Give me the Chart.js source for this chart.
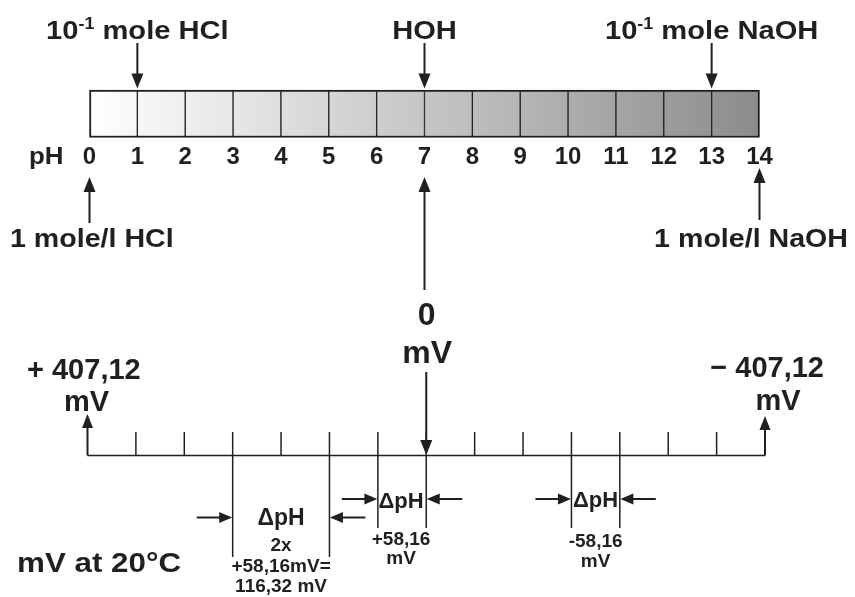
<!DOCTYPE html>
<html>
<head>
<meta charset="utf-8">
<script src="https://cdn.jsdelivr.net/npm/chart.js@4/dist/chart.umd.min.js"></script>
<style>
html,body{margin:0;padding:0;background:#fff;}
#wrap{width:855px;height:597px;}
</style>
</head>
<body>
<div id="wrap"><canvas id="c" width="855" height="597"></canvas></div>
<script>
// ---------- data ----------
const phValues = [0,1,2,3,4,5,6,7,8,9,10,11,12,13,14];
const phTickLabels = ['0','1','2','3','4','5','6','7','8','9','10','11','12','13','14'];
const phCells = [0,1,2,3,4,5,6,7,8,9,10,11,12,13];
const topMarkerPH = [1, 7, 13];
const topMarkerLabels = [['10','-1',' mole HCl'], ['HOH','',''], ['10','-1',' mole NaOH']];
const bottomMarkerPH = [0, 14];
const bottomMarkerLabels = ['1 mole/l HCl', '1 mole/l NaOH'];
const zeroPH = 7;
const zeroLabels = ['0', 'mV'];
const mvEndPH = [0, 14];
const mvEndLabels = ['+ 407,12', '\u2212 407,12'];
const mvUnit = 'mV';
const deltaFrom = [3, 6, 10];
const deltaTo = [5, 7, 11];
const deltaTitle = '\u0394pH';
const deltaTexts = [['2x','+58,16mV=','116,32 mV'], ['+58,16','mV'], ['-58,16','mV']];
const tempLabel = 'mV at 20\u00b0C';
const axisLabel = 'pH';

// ---------- layout / style ----------
const INK = '#231f20';
const FONT = '"Liberation Sans", Arial, Helvetica, sans-serif';
const BAR = {top: 90, bottom: 137.5};
const deltaLayout = [
  {arrowY: 517.5, lineBottom: 557, titleBase: 525, titleSize: 23, lineBases: [551, 572, 591.5], tx: 0},
  {arrowY: 499, lineBottom: 528, titleBase: 508, titleSize: 22, lineBases: [545, 563.5], tx: -1},
  {arrowY: 499, lineBottom: 528, titleBase: 507, titleSize: 22, lineBases: [546.5, 566.5], tx: 0}
];

function txt(ctx, str, x, y, size, align, sx) {
  sx = sx || 1;
  ctx.save();
  ctx.font = 'bold ' + size + 'px ' + FONT;
  ctx.fillStyle = INK;
  ctx.textBaseline = 'alphabetic';
  ctx.textAlign = 'left';
  const w = ctx.measureText(str).width * sx;
  let left = x;
  if (align === 'center') left = x - w / 2;
  else if (align === 'right') left = x - w;
  ctx.translate(left, y);
  ctx.scale(sx, 1);
  ctx.fillText(str, 0, 0);
  ctx.restore();
  return w;
}
function measure(ctx, str, size, sx) {
  ctx.save();
  ctx.font = 'bold ' + size + 'px ' + FONT;
  const w = ctx.measureText(str).width * (sx || 1);
  ctx.restore();
  return w;
}
function line(ctx, x1, y1, x2, y2, w) {
  ctx.save();
  ctx.strokeStyle = INK;
  ctx.lineWidth = w || 1.5;
  ctx.beginPath();
  ctx.moveTo(x1, y1);
  ctx.lineTo(x2, y2);
  ctx.stroke();
  ctx.restore();
}
function arrow(ctx, x1, y1, x2, y2, headLen, headW, w) {
  headLen = headLen || 14; headW = headW || 6;
  const ang = Math.atan2(y2 - y1, x2 - x1);
  const bx = x2 - Math.cos(ang) * headLen, by = y2 - Math.sin(ang) * headLen;
  line(ctx, x1, y1, bx + Math.cos(ang) * 2, by + Math.sin(ang) * 2, w || 2);
  ctx.save();
  ctx.fillStyle = INK;
  ctx.beginPath();
  ctx.moveTo(x2, y2);
  ctx.lineTo(bx - Math.sin(ang) * headW, by + Math.cos(ang) * headW);
  ctx.lineTo(bx + Math.sin(ang) * headW, by - Math.cos(ang) * headW);
  ctx.closePath();
  ctx.fill();
  ctx.restore();
}

const diagramPlugin = {
  id: 'phDiagram',
  afterDatasetsDraw(chart) {
    const ctx = chart.ctx;
    const xt = chart.scales.x, xb = chart.scales.x2;
    const X = v => xt.getPixelForValue(v);
    const XB = v => xb.getPixelForValue(v);

    // top markers
    topMarkerPH.forEach((ph, i) => {
      const cx = X(ph);
      const parts = topMarkerLabels[i];
      const sx = 1.12;
      const w1 = measure(ctx, parts[0], 26, sx), w2 = measure(ctx, parts[1], 16, sx), w3 = measure(ctx, parts[2], 26, sx);
      let left = cx - (w1 + w2 + w3) / 2;
      txt(ctx, parts[0], left, 38.5, 26, 'left', sx);
      if (parts[1]) txt(ctx, parts[1], left + w1, 28.5, 16, 'left', sx);
      if (parts[2]) txt(ctx, parts[2], left + w1 + w2, 38.5, 26, 'left', sx);
      arrow(ctx, cx, 43, cx, 88.5, 15, 6, 2);
    });

    // pH tick labels
    txt(ctx, axisLabel, 29, 164, 24, 'left', 1.08);
    phValues.forEach((ph, i) => txt(ctx, phTickLabels[i], X(ph), 164, 24, 'center'));

    // bottom markers
    arrow(ctx, X(bottomMarkerPH[0]), 223, X(bottomMarkerPH[0]), 177, 15, 6, 2);
    arrow(ctx, X(bottomMarkerPH[1]), 220, X(bottomMarkerPH[1]), 168, 15, 6, 2);
    txt(ctx, bottomMarkerLabels[0], 10, 247, 26, 'left', 1.1);
    txt(ctx, bottomMarkerLabels[1], 848, 247, 26, 'right', 1.1);

    // central 0 mV
    arrow(ctx, X(zeroPH), 290, X(zeroPH), 177, 15, 6, 2);
    txt(ctx, zeroLabels[0], XB(zeroPH) + 0.5, 325, 32, 'center');
    txt(ctx, zeroLabels[1], XB(zeroPH) + 1, 363, 32, 'center');
    arrow(ctx, XB(zeroPH), 372, XB(zeroPH), 455, 15, 6, 2);

    // mV axis
    const axY = 455.5;
    line(ctx, XB(0), axY, XB(14), axY, 1.5);
    phValues.forEach(ph => {
      if (ph !== mvEndPH[0] && ph !== mvEndPH[1]) line(ctx, XB(ph), axY, XB(ph), 432, 1.5);
    });
    arrow(ctx, XB(mvEndPH[0]), axY, XB(mvEndPH[0]), 414, 14, 5.5, 2);
    arrow(ctx, XB(mvEndPH[1]), axY, XB(mvEndPH[1]), 416, 14, 5.5, 2);
    txt(ctx, mvEndLabels[0], 27, 379, 29, 'left');
    txt(ctx, mvUnit, XB(mvEndPH[0]) - 1, 411, 29, 'center');
    txt(ctx, mvEndLabels[1], 824, 377, 29, 'right');
    txt(ctx, mvUnit, XB(mvEndPH[1]) + 13, 410, 29, 'center');

    // delta pH groups
    deltaFrom.forEach((a, i) => {
      const L = deltaLayout[i];
      const xa = XB(a), xbp = XB(deltaTo[i]);
      line(ctx, xa, axY, xa, L.lineBottom, 1.5);
      line(ctx, xbp, axY, xbp, L.lineBottom, 1.5);
      arrow(ctx, xa - 36, L.arrowY, xa - 0.5, L.arrowY, 13, 5.5, 2);
      arrow(ctx, xbp + 36, L.arrowY, xbp + 0.5, L.arrowY, 13, 5.5, 2);
      const cx = (xa + xbp) / 2 + L.tx;
      txt(ctx, deltaTitle, cx, L.titleBase, L.titleSize, 'center');
      deltaTexts[i].forEach((s, j) => txt(ctx, s, cx, L.lineBases[j], 19, 'center'));
    });

    // temperature label
    txt(ctx, tempLabel, 17, 571.5, 28, 'left', 1.12);
  }
};

new Chart(document.getElementById('c'), {
  type: 'bar',
  data: {
    datasets: [{
      data: phCells.map(p => ({x: p + 0.5, y: [BAR.top, BAR.bottom]})),
      barThickness: 'flex',
      categoryPercentage: 1,
      barPercentage: 1,
      borderSkipped: false,
      borderColor: INK,
      borderWidth: c => ({top: 2, bottom: 2, left: c.dataIndex === 0 ? 2 : 1, right: c.dataIndex === phCells.length - 1 ? 2 : 1}),
      backgroundColor: c => {
        const ch = c.chart, xs = ch.scales.x;
        if (!xs) return '#cccccc';
        const p0 = xs.getPixelForValue(0), p1 = xs.getPixelForValue(14);
        if (!isFinite(p0) || !isFinite(p1)) return '#cccccc';
        const g = ch.ctx.createLinearGradient(p0, 0, p1, 0);
        g.addColorStop(0, '#ffffff');
        g.addColorStop(1, '#8c8c8c');
        return g;
      }
    }]
  },
  options: {
    responsive: false,
    animation: false,
    devicePixelRatio: 1,
    layout: {padding: 0},
    plugins: {legend: {display: false}, tooltip: {enabled: false}},
    scales: {
      x: {type: 'linear', display: false, min: -1.8701, max: 15.9956, offset: false, grid: {display: false}},
      x2: {type: 'linear', display: false, min: -1.8081, max: 15.8597, offset: false, grid: {display: false}},
      y: {type: 'linear', display: false, min: 0, max: 597, reverse: true, grid: {display: false}}
    }
  },
  plugins: [diagramPlugin]
});
</script>
</body>
</html>
